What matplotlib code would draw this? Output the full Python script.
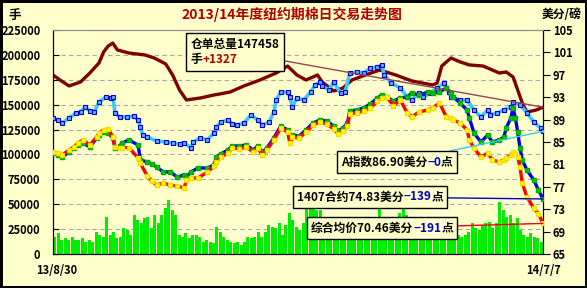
import matplotlib
matplotlib.use('Agg')
import matplotlib.pyplot as plt
import numpy as np
from matplotlib.offsetbox import TextArea, HPacker, VPacker, AnnotationBbox

plt.rcParams['font.family'] = ['Noto Sans CJK SC', 'DejaVu Sans']
plt.rcParams['font.weight'] = 'bold'

BG = '#FFFFCC'

# trading day index: 0 = 13/8/30, 213 = 14/7/7
stock_day = [0, 3, 7, 12, 16, 20, 22, 24, 26, 28, 33, 40, 44, 49, 52, 55, 58, 64, 70, 77,
             83, 90, 97, 102, 106, 110, 115, 117, 122, 126, 130, 137, 142, 149, 156, 165,
             167, 169, 173, 177, 181, 187, 191, 194, 197, 200, 202, 204, 206, 210, 213]
stock = [179800, 174800, 168800, 172800, 181800, 191900, 202900, 208900, 211900, 204900,
         201900, 199900, 196900, 190900, 179800, 164700, 154700, 156700, 159700, 162700,
         168800, 174800, 181800, 188800, 179800, 174800, 179800, 172800, 163700, 166700,
         174800, 180800, 184800, 179800, 173800, 169800, 171800, 188800, 196900, 192900,
         189900, 188800, 184800, 181800, 182800, 177800, 164700, 151700, 142600, 144600,
         147458]

# A index
ai_day = [0, 2, 4, 7, 10, 12, 14, 16, 18, 20, 23, 25, 26, 27, 29, 32, 35, 37, 38, 39,
          41, 45, 49, 52, 55, 57, 60, 61, 64, 67, 70, 71, 73, 76, 78, 80, 83, 86, 89, 91,
          94, 96, 97, 99, 102, 103, 104, 106, 109, 112, 114, 116, 117, 120, 122, 125, 127,
          129, 132, 135, 138, 141, 143, 144, 147, 151, 154, 156, 159, 161, 164, 167, 170,
          172, 173, 177, 180, 183, 186, 189, 190, 193, 196, 199, 200, 203, 206, 209, 212, 213]
ai = [89.29, 88.93, 88.39, 89.29, 90.18, 90.36, 91.25, 90.54, 90.36, 92.14,
      93.04, 92.86, 93.04, 90.18, 89.46, 89.46, 89.64, 88.93, 87.68, 86.25,
      85.89, 85.18, 85.0, 84.82, 84.64, 84.82, 83.93, 85.0, 85.71, 85.36,
      86.61, 87.68, 88.57, 88.93, 88.21, 88.04, 88.39, 89.82, 88.93, 88.04,
      88.57, 90.36, 92.5, 93.93, 93.93, 93.04, 91.25, 92.86, 92.5, 93.93,
      95.18, 95.71, 95.0, 94.29, 95.71, 93.75, 93.93, 97.32, 97.5, 97.32,
      98.21, 98.39, 98.75, 96.96, 95.54, 94.64, 93.04, 92.5, 93.75, 93.04,
      93.75, 94.64, 95.54, 93.93, 93.04, 92.5, 92.5, 90.71, 89.46, 90.71,
      89.82, 90.18, 90.71, 91.25, 92.14, 91.61, 90.18, 88.57, 87.5, 86.90]

# 1407 contract and composite average price
px_day = [0, 2, 4, 7, 9, 11, 13, 16, 19, 20, 22, 24, 26, 27, 29, 30, 33, 37, 38, 41,
          43, 45, 48, 51, 54, 57, 58, 60, 63, 67, 70, 71, 73, 76, 78, 81, 84, 87, 89, 91,
          93, 96, 99, 102, 103, 104, 107, 110, 113, 116, 119, 122, 124, 126, 128, 129, 132,
          135, 138, 141, 143, 145, 148, 151, 154, 156, 159, 163, 165, 168, 171, 173, 174,
          177, 180, 181, 183, 186, 189, 191, 194, 196, 197, 199, 200, 201, 202, 203, 204,
          206, 209, 211, 213]
c1407 = [83.04, 82.68, 82.32, 83.21, 83.93, 84.46, 84.82, 84.11, 85.71, 86.25,
         86.79, 86.61, 85.71, 83.93, 84.29, 84.82, 85.36, 84.46, 81.79, 81.43,
         81.07, 80.54, 79.64, 79.64, 78.75, 79.11, 78.75, 79.64, 80.36, 80.36,
         80.89, 82.32, 82.86, 83.57, 84.29, 84.29, 84.46, 83.57, 84.29, 83.21,
         83.93, 85.71, 87.86, 87.14, 85.36, 86.25, 86.07, 87.14, 88.39, 88.93,
         88.75, 87.86, 86.96, 87.5, 88.39, 90.54, 90.71, 91.07, 91.79, 92.86,
         93.39, 93.04, 92.32, 92.86, 93.04, 93.75, 93.39, 93.93, 93.75, 93.93,
         94.64, 93.75, 93.04, 91.96, 90.71, 89.29, 86.61, 85.0, 86.25, 85.0,
         85.36, 85.89, 87.5, 89.29, 91.07, 89.29, 86.79, 83.93, 81.79, 80.0,
         78.21, 76.43, 74.83]
avg = [83.21, 83.04, 82.68, 83.57, 84.11, 84.82, 85.36, 84.46, 85.89, 86.61,
       87.14, 87.32, 85.89, 84.11, 83.93, 84.0, 84.0, 82.14, 81.2, 78.9,
       78.0, 77.32, 77.68, 77.3, 77.14, 76.79, 78.21, 78.6, 78.57, 79.6,
       80.71, 81.5, 82.32, 83.04, 83.93, 83.75, 84.11, 83.21, 83.93, 82.68,
       83.57, 85.36, 87.5, 86.79, 84.82, 85.89, 85.71, 86.79, 88.04, 88.57,
       88.21, 87.32, 86.43, 86.96, 87.86, 90.0, 90.18, 90.54, 91.07, 92.32,
       92.86, 93.04, 91.5, 92.5, 90.18, 89.46, 90.36, 90.71, 91.07, 91.96,
       89.46, 89.2, 88.93, 88.39, 87.14, 85.36, 83.93, 82.32, 83.04, 81.79,
       81.43, 81.8, 82.14, 82.7, 83.21, 82.8, 82.32, 80.54, 77.68, 75.18,
       73.21, 72.2, 70.46]

# daily volume (lots)
vol = [17400, 20800, 14100, 15700, 14100, 17400, 14100, 14100, 15700, 12400,
       14100, 12400, 22400, 19100, 17400, 37500, 19100, 22400, 15700, 17400,
       25800, 24100, 19100, 39200, 34200, 30800, 35800, 37500, 25800, 39200,
       30800, 39200, 45900, 54200, 44200, 39200, 19100, 17400, 20800, 15700,
       19100, 19100, 17400, 12400, 14100, 12400, 10700, 27500, 22400, 17400,
       14100, 12400, 10700, 12400, 9000, 12400, 17400, 15700, 17400, 22400,
       17400, 22400, 29100, 27500, 25800, 30800, 19100, 29100, 40900, 34200,
       27500, 24100, 30800, 47500, 45900, 47500, 44200, 44200, 32500, 34200,
       34200, 30800, 27500, 25800, 29100, 25800, 25800, 24100, 17400, 22400,
       22400, 19100, 22400, 20800, 47500, 29100, 24100, 27500, 25800, 22400,
       40900, 47500, 39200, 29100, 25800, 22400, 22400, 24100, 17400, 19100,
       15700, 19100, 17400, 19100, 17400, 22400, 15700, 19100, 17400, 19100,
       22400, 30800, 25800, 24100, 29100, 30800, 32500, 25800, 30800, 52600,
       44200, 37500, 39200, 30800, 35800, 24100, 19100, 17400, 20800, 17400,
       15700, 12400]

fig = plt.figure(figsize=(5.87, 2.88), dpi=100, facecolor=BG)
fig.patch.set_edgecolor('black')
fig.patch.set_linewidth(2.5)
ax = fig.add_axes([53 / 587, 34 / 288, 490 / 587, 224 / 288])
ax.set_facecolor(BG)

vol_x = np.linspace(0.8, 212.2, len(vol))
ax.bar(vol_x, vol, width=1.3, color='#00EE00', zorder=2)
ax.plot(stock_day, stock, color='#7F0000', lw=2.4, zorder=3)
ax.set_xlim(0, 213)
ax.set_ylim(0, 225000)
ax.set_yticks(np.arange(0, 225001, 25000))
ax.set_xticks([])
ax.yaxis.grid(True, linestyle=(0, (4, 3)), color='#A8A8A8', lw=0.8)
ax.set_axisbelow(True)
ax.tick_params(axis='y', labelsize=8, direction='in', length=4, pad=9)

ax2 = ax.twinx()
ax2.plot(ai_day, ai, color='#33CCFF', lw=2.6, marker='s', ms=3, mfc='#66AAFF',
         mec='#0000CC', mew=0.8, zorder=4)
ax2.plot(px_day, c1407, color='#0000EE', lw=2.4, marker='s', ms=2.6, mfc='#00CC00',
         mec='#00AA00', zorder=5)
ax2.plot(px_day, avg, color='#FF0000', lw=2.4, marker='s', ms=2.6, mfc='#FFFF00',
         mec='#EEDD00', zorder=6)
ax2.set_ylim(65, 105)
ax2.set_yticks(np.arange(65, 106, 4))
ax2.tick_params(axis='y', labelsize=8, direction='out', length=5, pad=2)

for a in (ax, ax2):
    a.spines['top'].set_color('#909090')
    for s in ('left', 'right', 'bottom'):
        a.spines[s].set_color('black')

fig.text(292 / 587, 1 - 14 / 288, '2013/14年度纽约期棉日交易走势图', color='#B00000',
         fontsize=10, ha='center', va='center')
fig.text(15 / 587, 1 - 15 / 288, '手', fontsize=9, ha='center', va='center')
fig.text(582 / 587, 1 - 15 / 288, '美分/磅', fontsize=8.5, ha='right', va='center')
fig.text(36 / 587, 1 - 271 / 288, '13/8/30', fontsize=8, ha='left', va='center')
fig.text(561 / 587, 1 - 271 / 288, '14/7/7', fontsize=8, ha='right', va='center')


def tag(lines, xy, xycoords, center, color):
    rows = []
    for line in lines:
        parts = [TextArea(t, textprops=dict(color=c, fontsize=8.5, fontweight='bold'))
                 for t, c in line]
        rows.append(HPacker(children=parts, align='baseline', pad=0, sep=0))
    box = VPacker(children=rows, align='left', pad=0, sep=2)
    ab = AnnotationBbox(box, xy, xycoords=xycoords, xybox=center,
                        boxcoords='figure pixels', box_alignment=(0.5, 0.5),
                        pad=0.25, frameon=True, annotation_clip=False,
                        bboxprops=dict(boxstyle='square', fc=BG, ec='black', lw=1),
                        arrowprops=dict(arrowstyle='-', color=color, lw=1,
                                        shrinkA=0, shrinkB=0))
    ab.set_zorder(10)
    ax2.add_artist(ab)


tag([[('仓单总量147458', 'black')], [('手', 'black'), ('+1327', '#B00000')]],
    (stock_day[-1], stock[-1]), ax.transData, (235, 288 - 52), '#994455')
tag([[('A指数86.90美分', 'black'), ('−0', '#0000CC'), ('点', 'black')]],
    (ai_day[-1], ai[-1]), ax2.transData, (397, 288 - 162), '#33CCFF')
tag([[('1407合约74.83美分', 'black'), ('−139', '#0000CC'), ('点', 'black')]],
    (px_day[-1], c1407[-1]), ax2.transData, (370, 288 - 197), '#0000CC')
tag([[('综合均价70.46美分', 'black'), ('−191', '#0000CC'), ('点', 'black')]],
    (px_day[-1], avg[-1]), ax2.transData, (382, 288 - 228), '#FF0000')

fig.savefig('out.png', dpi=100, facecolor=BG, edgecolor='black')
